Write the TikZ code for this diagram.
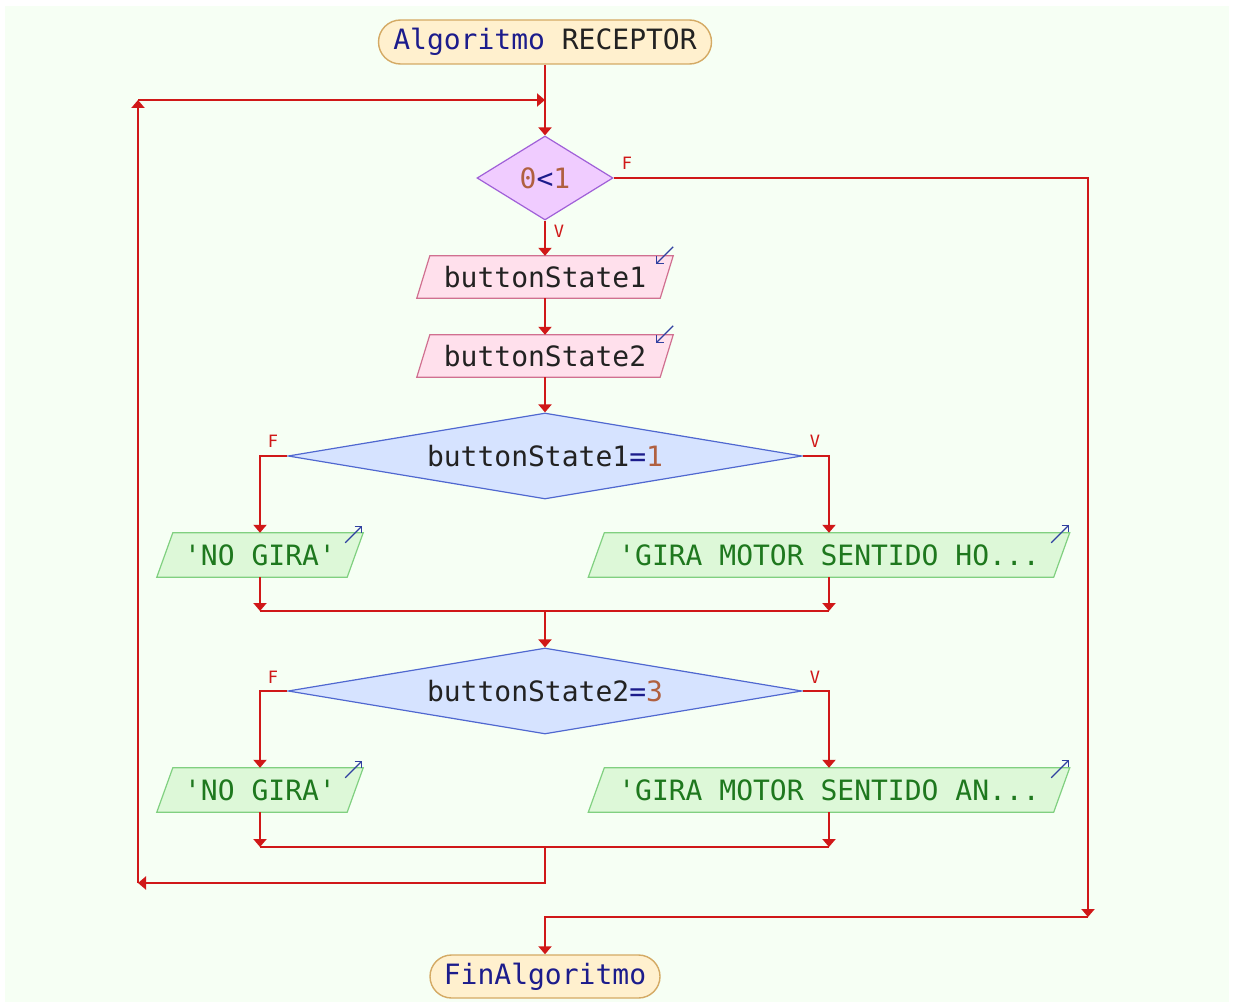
\documentclass[tikz,border=0pt]{standalone}
\usepackage{fontspec}
\setmonofont{DejaVu Sans Mono}
\usetikzlibrary{arrows.meta,shapes.geometric,shapes.misc,backgrounds}
\definecolor{bgc}{RGB}{246,255,244}
\definecolor{flowred}{RGB}{208,24,24}
\definecolor{txt}{RGB}{34,34,34}
\definecolor{kw}{RGB}{28,28,140}
\definecolor{num}{RGB}{176,96,64}
\definecolor{termfill}{RGB}{255,240,206}
\definecolor{termdraw}{RGB}{212,170,100}
\definecolor{loopfill}{RGB}{240,204,255}
\definecolor{loopdraw}{RGB}{160,96,216}
\definecolor{infill}{RGB}{255,224,236}
\definecolor{indraw}{RGB}{208,112,144}
\definecolor{iffill}{RGB}{214,227,255}
\definecolor{ifdraw}{RGB}{80,104,208}
\definecolor{outfill}{RGB}{221,248,216}
\definecolor{outdraw}{RGB}{128,208,128}
\definecolor{outtxt}{RGB}{30,120,30}
\definecolor{icon}{RGB}{48,64,160}
\newcommand\paradraw[3]{\path[#3] ([xshift=#2]#1.north west) -- ([xshift=#2]#1.north east) -- ([xshift=-#2]#1.south east) -- ([xshift=-#2]#1.south west) -- cycle;}
\tikzset{
  flow/.style={draw=flowred, line width=2pt, line join=miter},
  >={Triangle[width=13pt,length=8pt]},
  term/.style={rounded rectangle, draw=termdraw, fill=termfill, line width=1.4pt, inner sep=0pt, minimum height=44pt, text=txt},
  loopdia/.style={diamond, draw=loopdraw, fill=loopfill, line width=1.2pt, inner sep=0pt, aspect=1.6},
  ifdia/.style={diamond, draw=ifdraw, fill=iffill, line width=1.2pt, inner sep=0pt, aspect=6, minimum width=514pt, minimum height=86pt, text=txt},
  parabox/.style={inner sep=0pt, minimum height=42pt},
  outbox/.style={inner sep=0pt, minimum height=44pt, text=outtxt},
  inshape/.style={draw=indraw, fill=infill, line width=1.2pt},
  outshape/.style={draw=outdraw, fill=outfill, line width=1.2pt},
  lbl/.style={text=flowred, font=\ttfamily\fontsize{17}{18}\selectfont, inner sep=0pt},
  iconarr/.style={draw=icon, line width=1.1pt, -{Straight Barb[length=5pt,width=10pt]}}
}
\begin{document}
\begin{tikzpicture}[x=1pt,y=-1pt, font=\ttfamily\fontsize{28}{31}\selectfont]
\useasboundingbox (0,0) rectangle (1234,1006);

% nodes
\node[term, minimum width=333pt] (start) at (545,42) {\textcolor{kw}{Algoritmo} RECEPTOR};
\node[loopdia, minimum width=136pt, minimum height=84pt] (d0) at (545,178) {\textcolor{num}{0}\textcolor{kw}{<}\textcolor{num}{1}};
\node[parabox, minimum width=243pt, text=txt] (p1) at (545,277) {buttonState1};
\node[parabox, minimum width=243pt, text=txt] (p2) at (545,356) {buttonState2};
\node[ifdia] (d1) at (545,456) {buttonState1\textcolor{kw}{=}\textcolor{num}{1}};
\node[outbox, minimum width=190pt] (g1) at (260,555) {'NO GIRA'};
\node[outbox, minimum width=465pt] (h1) at (829,555) {'GIRA MOTOR SENTIDO HO...};
\node[ifdia] (d2) at (545,691) {buttonState2\textcolor{kw}{=}\textcolor{num}{3}};
\node[outbox, minimum width=190pt] (g2) at (260,790) {'NO GIRA'};
\node[outbox, minimum width=465pt] (h2) at (829,790) {'GIRA MOTOR SENTIDO AN...};
\node[term, minimum width=230pt, minimum height=43pt] (end) at (545,976.5) {\textcolor{kw}{FinAlgoritmo}};

% page background and parallelogram outlines behind text
\begin{pgfonlayer}{background}
\fill[white] (0,0) rectangle (1234,1006);
\fill[bgc] (5,6) rectangle (1229,1002);
\paradraw{p1}{6.5pt}{inshape}
\paradraw{p2}{6.5pt}{inshape}
\paradraw{g1}{8pt}{outshape}
\paradraw{h1}{8pt}{outshape}
\paradraw{g2}{8pt}{outshape}
\paradraw{h2}{8pt}{outshape}
\end{pgfonlayer}

% icons
\draw[iconarr] ([xshift=6.5pt,yshift=9pt]p1.north east) -- ([xshift=-10.5pt,yshift=-8pt]p1.north east);
\draw[iconarr] ([xshift=6.5pt,yshift=9pt]p2.north east) -- ([xshift=-10.5pt,yshift=-8pt]p2.north east);
\draw[iconarr] ([xshift=-10pt,yshift=-10pt]g1.north east) -- ([xshift=7pt,yshift=7pt]g1.north east);
\draw[iconarr] ([xshift=-10pt,yshift=-10pt]g2.north east) -- ([xshift=7pt,yshift=7pt]g2.north east);
\draw[iconarr] ([xshift=-10.5pt,yshift=-10pt]h1.north east) -- ([xshift=7.5pt,yshift=8pt]h1.north east);
\draw[iconarr] ([xshift=-10.5pt,yshift=-10pt]h2.north east) -- ([xshift=7.5pt,yshift=8pt]h2.north east);

% labels
\node[lbl] (lf0) at (627,163) {F};
\node[lbl] (lv0) at (559,231) {V};
\node[lbl] (lf1) at (273,441) {F};
\node[lbl] (lv1) at (815,441) {V};
\node[lbl] (lf2) at (273,677) {F};
\node[lbl] (lv2) at (815,677) {V};

% coordinates
\coordinate (j0) at (545,100);
\coordinate (l1) at (138,883);
\coordinate (l2) at (138,100);
\coordinate (m2c) at (545,883);
\coordinate (r1) at (1088,178);
\coordinate (r2) at (1088,917);
\coordinate (r3) at (545,917);
\coordinate (a1) at (260,456);
\coordinate (b1) at (829,456);
\coordinate (a2) at (260,691);
\coordinate (b2) at (829,691);
\coordinate (ma1) at (260,611);
\coordinate (mb1) at (829,611);
\coordinate (mc1) at (545,611);
\coordinate (ma2) at (260,847);
\coordinate (mb2) at (829,847);
\coordinate (mc2) at (545,847);

% connectors
\draw[flow,->] (start.south) -- (d0.north);
\draw[flow,->] (d0.south) -- (p1.north);
\draw[flow,->] (p1.south) -- (p2.north);
\draw[flow,->] (p2.south) -- (d1.north);
\draw[flow,->] (d1.west) -- (a1) -- (g1.north);
\draw[flow,->] (d1.east) -- (b1) -- (h1.north);
\draw[flow,->] (g1.south) -- (ma1);
\draw[flow,->] (h1.south) -- (mb1);
\draw[flow] (ma1) -- (mb1);
\draw[flow,->] (mc1) -- (d2.north);
\draw[flow,->] (d2.west) -- (a2) -- (g2.north);
\draw[flow,->] (d2.east) -- (b2) -- (h2.north);
\draw[flow,->] (g2.south) -- (ma2);
\draw[flow,->] (h2.south) -- (mb2);
\draw[flow] (ma2) -- (mb2);
\draw[flow,->] (mc2) -- (m2c) -- (l1);
\draw[flow,->] (l1) -- (l2);
\draw[flow,->] (l2) -- (j0);
\draw[flow,->] (d0.east) -- (r1) -- (r2);
\draw[flow,->] (r2) -- (r3) -- (end.north);
\end{tikzpicture}
\end{document}
